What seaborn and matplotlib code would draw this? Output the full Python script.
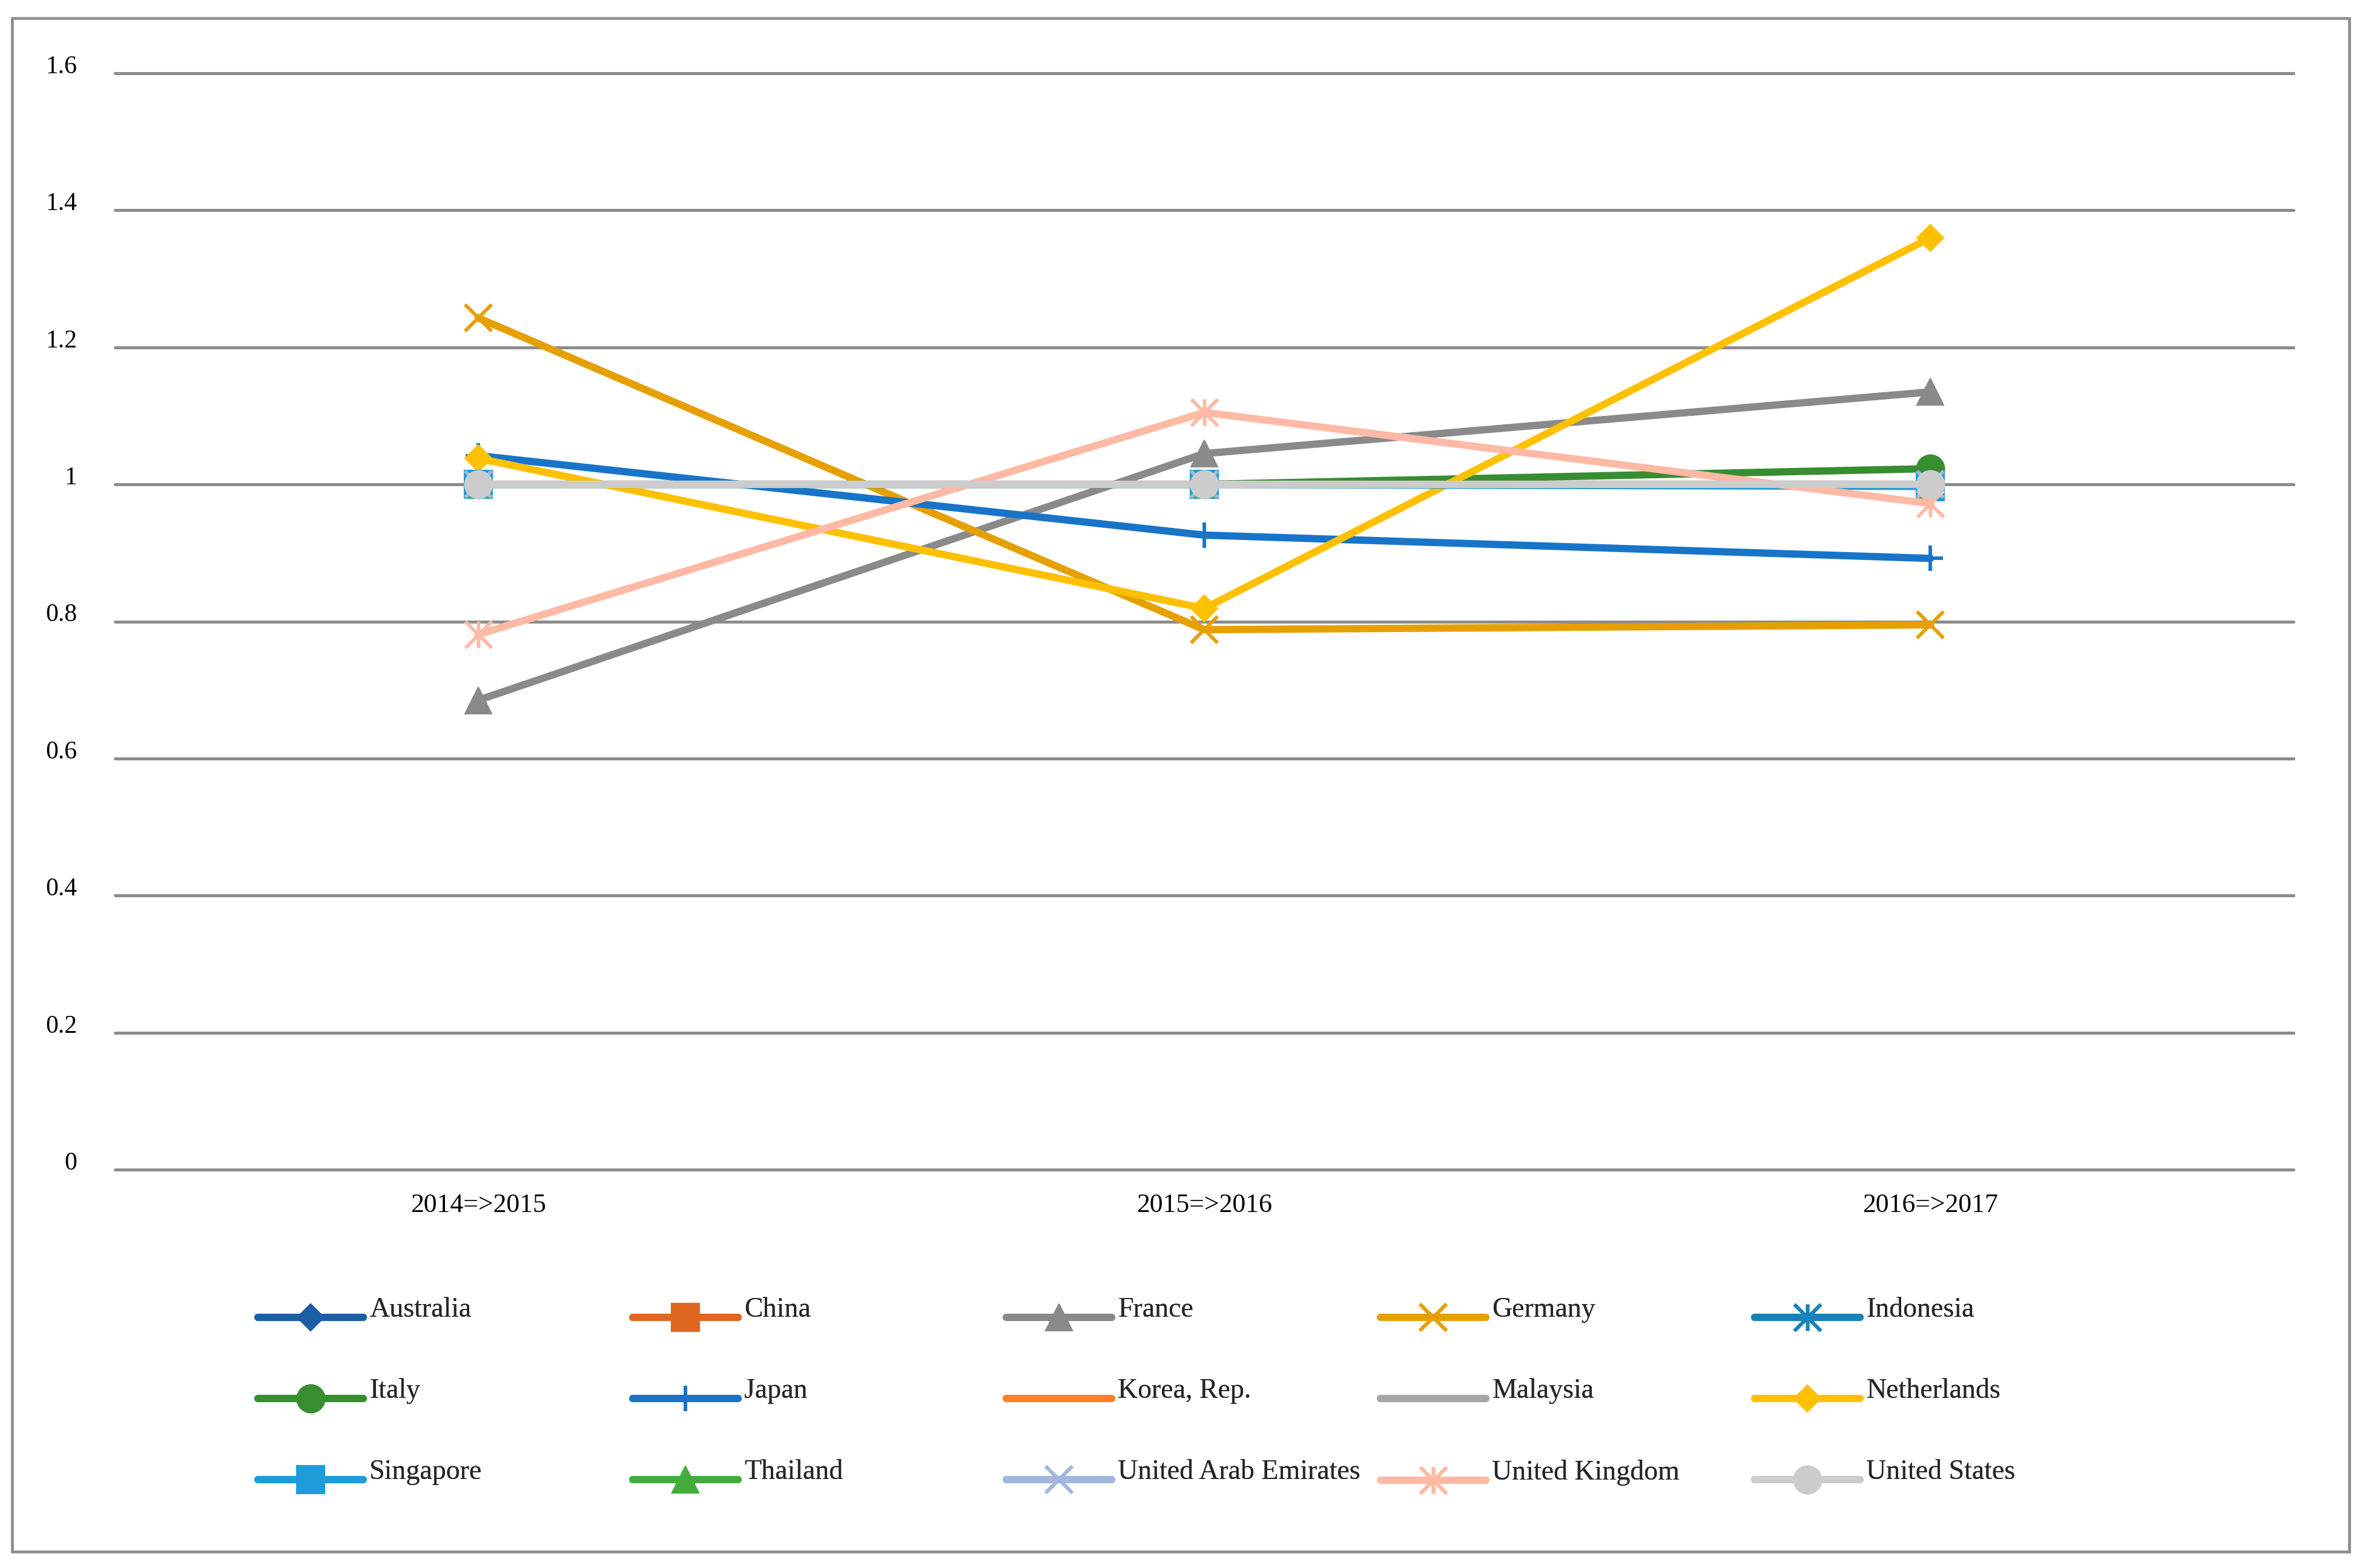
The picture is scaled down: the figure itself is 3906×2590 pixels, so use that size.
import matplotlib.pyplot as plt
import seaborn as sns
import pandas as pd
from matplotlib.path import Path
from matplotlib.patches import Rectangle

sns.set_theme(style='white')
plt.rcParams['font.family'] = ['Liberation Serif', 'DejaVu Serif']

# 데이터
periods = ['2014=>2015', '2015=>2016', '2016=>2017']
countries = ['Australia', 'China', 'France', 'Germany', 'Indonesia',
             'Italy', 'Japan', 'Korea, Rep.', 'Malaysia', 'Netherlands',
             'Singapore', 'Thailand', 'United Arab Emirates', 'United Kingdom', 'United States']

australia = [1.0, 1.0, 1.0]
china = [1.0, 1.0, 1.0]
france = [0.685, 1.045, 1.135]
germany = [1.243, 0.788, 0.795]
indonesia = [1.0, 1.0, 1.0]
italy = [1.0, 1.0, 1.023]
japan = [1.042, 0.926, 0.892]
korea = [1.0, 1.0, 1.0]
malaysia = [1.0, 1.0, 1.0]
netherlands = [1.038, 0.819, 1.360]
singapore = [1.0, 1.0, 0.997]
thailand = [1.0, 1.0, 1.0]
uae = [1.0, 1.0, 1.0]
uk = [0.781, 1.105, 0.972]
us = [1.0, 1.0, 1.0]

y_ticks = [0, 0.2, 0.4, 0.6, 0.8, 1.0, 1.2, 1.4, 1.6]
y_tick_labels = ['0', '0.2', '0.4', '0.6', '0.8', '1', '1.2', '1.4', '1.6']

series = [australia, china, france, germany, indonesia, italy, japan, korea,
          malaysia, netherlands, singapore, thailand, uae, uk, us]
rows = []
for name, vals in zip(countries, series):
    for p, v in zip(periods, vals):
        rows.append({'period': p, 'country': name, 'value': v})
df = pd.DataFrame(rows)

# 별 모양 마커 (세로선 + X)
STAR = Path([(0, -1), (0, 1), (-1, -1), (1, 1), (-1, 1), (1, -1)],
            [Path.MOVETO, Path.LINETO, Path.MOVETO, Path.LINETO, Path.MOVETO, Path.LINETO])

styles = {
    'Australia': ('#1a5ea6', 'D', 7.6),
    'China': ('#e0671f', 's', 11),
    'France': ('#8a8a8a', '^', 10.5),
    'Germany': ('#e5a000', 'x', 10.5),
    'Indonesia': ('#1783b6', STAR, 10.5),
    'Italy': ('#378e31', 'o', 11),
    'Japan': ('#1874c8', '+', 10),
    'Korea, Rep.': ('#ff7f27', None, 0),
    'Malaysia': ('#a6a6a6', None, 0),
    'Netherlands': ('#ffc000', 'D', 7.6),
    'Singapore': ('#1e9cd8', 's', 11),
    'Thailand': ('#43ad3c', '^', 10.5),
    'United Arab Emirates': ('#a3b7dd', 'x', 10.5),
    'United Kingdom': ('#ffb9a4', STAR, 10.5),
    'United States': ('#cccccc', 'o', 11),
}

fig = plt.figure(figsize=(3906 / 300, 2590 / 300), dpi=300)
ax = fig.add_axes([190 / 3906, 1 - 1932 / 2590, 3598 / 3906, 1811 / 2590])

handles = {}
for name in countries:
    color, marker, ms = styles[name]
    line_marker = marker in ('x', '+') or marker is STAR
    sns.lineplot(data=df[df.country == name], x='period', y='value', ax=ax,
                 color=color, lw=2.9, marker=marker, ms=ms,
                 mec=color, mfc=color, mew=1.4 if line_marker else 0.5,
                 sort=False, label=name)
    handles[name] = ax.lines[-1]
if ax.get_legend():
    ax.get_legend().remove()

ax.set_xlim(-0.5, 2.5)
ax.set_ylim(0, 1.6)
ax.set_yticks(y_ticks)
ax.set_yticklabels(y_tick_labels)
ax.set_xlabel('')
ax.set_ylabel('')
ax.yaxis.grid(True, color='#8c8c8c', lw=1.2)
ax.xaxis.grid(False)
ax.set_axisbelow(True)
for gl in ax.get_ygridlines():
    gl.set_clip_on(False)
for s in ax.spines.values():
    s.set_visible(False)
ax.tick_params(axis='y', length=0, pad=15, labelsize=10, colors='black')
ax.tick_params(axis='x', length=0, pad=9.4, labelsize=10.5, colors='black')
for t in ax.get_yticklabels():
    t.set_verticalalignment('baseline')

# 범례 (5열 x 3행, 행 우선 순서)
col_x = [426, 1045, 1662, 2280, 2898]
for c in range(5):
    names = [countries[r * 5 + c] for r in range(3)]
    leg = fig.legend([handles[n] for n in names], names, loc='center left',
                     bbox_to_anchor=(col_x[c] / 3906, 1 - 2315 / 2590),
                     frameon=False, fontsize=11, handlelength=3.8,
                     handletextpad=0.22, labelspacing=2.0,
                     borderpad=0, borderaxespad=0)
    # 글자를 핸들보다 조금 위로
    for txt in leg.get_texts():
        txt.set_y(17)
    fig.add_artist(leg)

# 바깥 테두리
fig.patches.append(Rectangle((20 / 3906, 1 - 2563 / 2590), 3860 / 3906, 2533 / 2590,
                             transform=fig.transFigure, fill=False,
                             edgecolor='#8c8c8c', lw=1.1))

fig.savefig('out.png', dpi=300)
